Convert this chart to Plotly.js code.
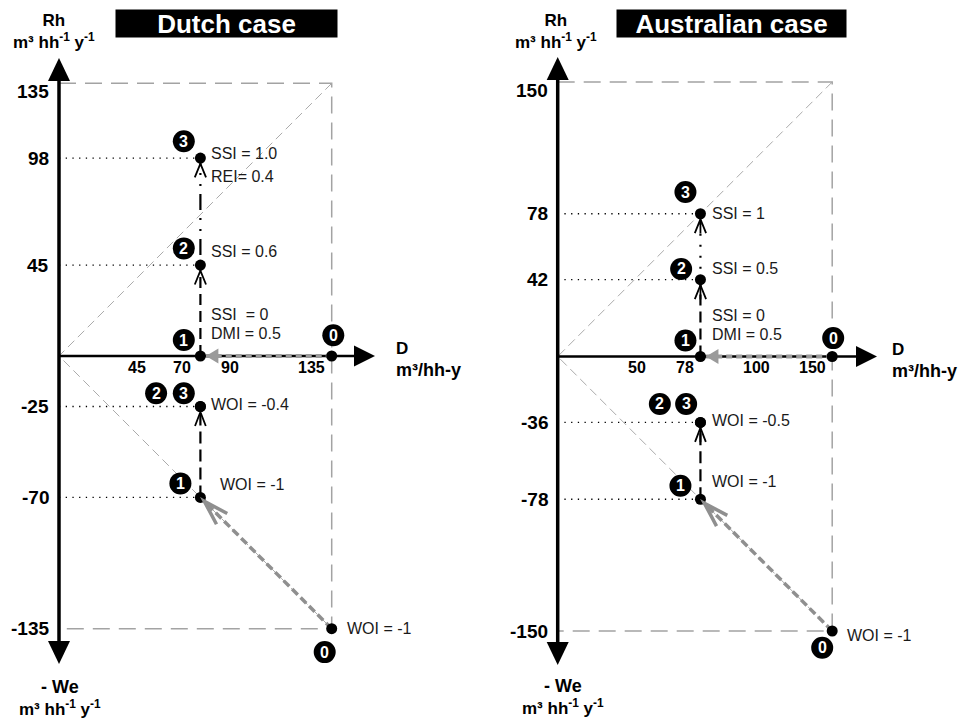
<!DOCTYPE html>
<html><head><meta charset="utf-8">
<script src="https://cdn.plot.ly/plotly-3.0.1.min.js"></script>
<style>html,body{margin:0;padding:0;background:#fff}#chart{width:960px;height:722px}</style>
</head><body><div id="chart"></div>
<script>
// ================= DATA =================
const states = ['0', '1', '2', '3'];
const panelTitles = ['Dutch case', 'Australian case'];

// Dutch case: position of each state 0..3
const dutchD  = [135, 70, 70, 70];      // D (m3/hh-y)
const dutchRh = [0, 0, 45, 98];         // Rh
const dutchWe = [-135, -70, -25, -25];  // -We
const dutchMax = 135;
const dutchDTicks  = [45, 70, 90, 135];
const dutchRhTicks = [135, 98, 45];
const dutchWeTicks = [-25, -70, -135];
const dutchNotes = ['WOI = -1', 'SSI  = 0', 'DMI = 0.5', 'WOI = -1', 'SSI = 0.6', 'WOI = -0.4', 'SSI = 1.0', 'REI= 0.4'];

// Australian case
const ausD  = [150, 78, 78, 78];
const ausRh = [0, 0, 42, 78];
const ausWe = [-150, -78, -36, -36];
const ausMax = 150;
const ausDTicks  = [50, 78, 100, 150];
const ausRhTicks = [150, 78, 42];
const ausWeTicks = [-36, -78, -150];
const ausNotes = ['WOI = -1', 'SSI = 0', 'DMI = 0.5', 'WOI = -1', 'SSI = 0.5', 'WOI = -0.5', 'SSI = 1'];

const axisTitles = {up: 'Rh', down: '- We', right: 'D', units: 'm³ hh<sup>-1</sup> y<sup>-1</sup>', dUnits: 'm³/hh-y'};

// ================= LAYOUT / STYLE =================
const W = 960, H = 722;
const FONT = 'Arial, "Liberation Sans", sans-serif';
const geo = [
  {xa: 'x', ya: 'y', ox: 59, oy: 356, sc: 2.02, left: 0, right: 480, topTip: 58, botTip: 664, rightTip: 375,
   dShift: [-13, -18, -11, -20], dash23: '2px,8px,16px,8px,2px,9px', shaft: false,
   title: {cx: 226.3, w: 221}, top: {cx: 53.5, cy: 31.5}, bot: {cx: 59.5, cy: 698}, dLab: {x: 394, cy: 359},
   notePos: [[0,'We',13,0],[1,'Rh',9,-42],[1,'Rh',9,-23],[1,'We',18,-13],[2,'Rh',9,-14],[2,'We',9,-2],[3,'Rh',9,-5],[3,'Rh',9,18]],
   badgePos: [[0,'Rh',1.6,-20.7],[1,'Rh',-16.6,-16],[2,'Rh',-16.6,-16.7],[3,'Rh',-16.6,-16.7],[0,'We',-7,23.4],[1,'We',-20,-14],[2,'We',-44.3,-13.3],[3,'We',-16.6,-13.3]]},
  {xa: 'x2', ya: 'y2', ox: 557.7, oy: 356.5, sc: 1.83, left: 480, right: 960, topTip: 57, botTip: 665, rightTip: 877,
   dShift: [-12, -15, 16, -20], dash23: '2px,9px', shaft: true,
   title: {cx: 731.3, w: 229}, top: {cx: 556, cy: 31}, bot: {cx: 563, cy: 697.2}, dLab: {x: 890, cy: 360.5},
   notePos: [[0,'We',12.6,4],[1,'Rh',10,-41],[1,'Rh',10,-22],[1,'We',10,-18],[2,'Rh',10,-11],[2,'We',10,-2],[3,'Rh',10,0]],
   badgePos: [[0,'Rh',1,-18.4],[1,'Rh',-15,-16],[2,'Rh',-19.3,-10.7],[3,'Rh',-15,-21.7],[0,'We',-10,16.7],[1,'We',-20,-13.4],[2,'We',-40.6,-18.4],[3,'We',-14.3,-18.4]]}
];
const data = [
  {D: dutchD, Rh: dutchRh, We: dutchWe, max: dutchMax, dT: dutchDTicks, rT: dutchRhTicks, wT: dutchWeTicks, notes: dutchNotes},
  {D: ausD, Rh: ausRh, We: ausWe, max: ausMax, dT: ausDTicks, rT: ausRhTicks, wT: ausWeTicks, notes: ausNotes}
];

const px2x = (p, g) => (p - g.ox) / g.sc;
const px2y = (p, g) => (g.oy - p) / g.sc;

const traces = [], annotations = [], heads = [], badges = [];
const layout = {
  width: W, height: H, margin: {l: 0, r: 0, t: 0, b: 0},
  paper_bgcolor: '#fff', plot_bgcolor: '#fff', showlegend: false, hovermode: false,
  annotations
};

// pixel-sized path anchored at a data point (pts given in screen pixels, y downwards)
function pixPath(X, Y, xv, yv, pts, closed, color, width, fill) {
  const p = pts.map((q, k) => (k ? 'L' : 'M') + q[0].toFixed(2) + ',' + (-q[1]).toFixed(2)).join(' ') + (closed ? ' Z' : '');
  heads.push({type: 'path', xref: X, yref: Y, xsizemode: 'pixel', ysizemode: 'pixel', xanchor: xv, yanchor: yv, path: p,
    line: {color: color, width: width}, fillcolor: fill || 'rgba(0,0,0,0)', layer: 'above'});
}
// open "V" arrowhead; (ux,uy) = screen unit vector pointing from the head back along the line
function vee(X, Y, xv, yv, ux, uy, len, half, std, color, w, shaft) {
  const rot = a => { const r = a * Math.PI / 180; return [ux * Math.cos(r) - uy * Math.sin(r), ux * Math.sin(r) + uy * Math.cos(r)]; };
  const apex = [ux * std, uy * std];
  const l1 = rot(-half), l2 = rot(half);
  const e1 = [apex[0] + l1[0] * len, apex[1] + l1[1] * len];
  const e2 = [apex[0] + l2[0] * len, apex[1] + l2[1] * len];
  pixPath(X, Y, xv, yv, [e1, apex, e2], false, color, w);
  if (shaft) pixPath(X, Y, xv, yv, [apex, [apex[0] + ux * len * 0.95, apex[1] + uy * len * 0.95]], false, color, w);
}

data.forEach((d, i) => {
  const g = geo[i];
  const X = g.xa, Y = g.ya;
  const axName = X === 'x' ? 'xaxis' : 'xaxis2';
  const ayName = Y === 'y' ? 'yaxis' : 'yaxis2';
  layout[axName] = {domain: [g.left / W, g.right / W], range: [px2x(g.left, g), px2x(g.right, g)], visible: false, fixedrange: true, anchor: Y};
  layout[ayName] = {domain: [0, 1], range: [px2y(H, g), px2y(0, g)], visible: false, fixedrange: true, anchor: X};

  const line = (x, y, color, width, dash) => traces.push({type: 'scatter', mode: 'lines', x, y, xaxis: X, yaxis: Y,
    line: {color, width, dash}, hoverinfo: 'skip', cliponaxis: false});
  const val = (s, a) => a === 'Rh' ? d.Rh[s] : d.We[s];

  // frame and diagonals
  line([0, d.max, d.max, 0], [d.max, d.max, -d.max, -d.max], '#a3a3a3', 1.5, '17px,9px');
  line([d.max, 0, d.max], [d.max, 0, -d.max], '#ababab', 1, '9px,5px');
  // dotted guides
  const gx = [], gy = [];
  [[d.D[2], d.Rh[2]], [d.D[3], d.Rh[3]], [d.D[1], d.We[1]], [d.D[2], d.We[2]]].forEach(([x, y]) => { gx.push(0, x, null); gy.push(y, y, null); });
  line(gx, gy, '#000', 1.3, '1.3px,5.4px');
  // axes lines
  line([0, 0], [px2y(g.botTip - 12, g), px2y(g.topTip + 12, g)], '#000', 3.5, 'solid');
  line([0, px2x(g.rightTip - 12, g)], [0, 0], '#000', 2.5, 'solid');
  // movements
  line([d.D[1], d.D[2]], [d.Rh[1], d.Rh[2]], '#000', 2.2, '11px,6px');
  line([d.D[2], d.D[3]], [d.Rh[2], d.Rh[3]], '#000', 2.2, g.dash23);
  line([d.D[1], d.D[2]], [d.We[1], d.We[2]], '#000', 2.2, '12px,6px');
  line([d.D[0], d.D[1]], [d.Rh[0], d.Rh[1]], '#9a9a9a', 4, '6px,4px');
  line([d.D[0], d.D[1]], [d.We[0], d.We[1]], '#8f8f8f', 3.5, '8px,4px');
  // points
  traces.push({type: 'scatter', mode: 'markers', x: d.D.concat(d.D), y: d.Rh.concat(d.We), xaxis: X, yaxis: Y,
    marker: {color: '#000', size: 11}, hoverinfo: 'skip', cliponaxis: false});

  // axis arrowheads (filled triangles)
  pixPath(X, Y, 0, px2y(g.topTip, g), [[-11, 23], [0, 0], [11, 23]], true, '#000', 0, '#000');
  pixPath(X, Y, 0, px2y(g.botTip, g), [[-11, -23], [0, 0], [11, -23]], true, '#000', 0, '#000');
  pixPath(X, Y, px2x(g.rightTip, g), 0, [[-21, -10.5], [0, 0], [-21, 10.5]], true, '#000', 0, '#000');

  // movement arrowheads
  vee(X, Y, d.D[2], d.Rh[2], 0, 1, 15, 22, 5.5, '#000', 1.8, g.shaft);
  vee(X, Y, d.D[3], d.Rh[3], 0, 1, 15, 22, 5.5, '#000', 1.8, g.shaft);
  vee(X, Y, d.D[2], d.We[2], 0, 1, 15, 21, 5.5, '#000', 1.8, g.shaft);
  // grey diagonal open head
  const ddx = (d.D[0] - d.D[1]), ddy = -(d.We[0] - d.We[1]);
  const dl = Math.hypot(ddx, ddy);
  vee(X, Y, d.D[1], d.We[1], ddx / dl, ddy / dl, 26, 17, 5.5, '#8f8f8f', 3.5, false);
  // grey horizontal filled head
  pixPath(X, Y, d.D[1], d.Rh[1], [[5.5, 0], [18, -7.5], [18, 7.5]], true, '#9a9a9a', 0, '#9a9a9a');

  // tick labels
  const tickFont = {family: FONT, size: 19, color: '#000'};
  d.rT.concat(d.wT).forEach(v => annotations.push({x: 0, y: v, xref: X, yref: Y, text: '<b>' + v + '</b>',
    showarrow: false, xanchor: 'right', yanchor: 'middle', xshift: -8, yshift: v === d.max ? -8 : 0, font: tickFont}));
  d.dT.forEach((v, k) => annotations.push({x: v, y: 0, xref: X, yref: Y, text: '<b>' + v + '</b>',
    showarrow: false, xanchor: 'center', yanchor: 'middle', xshift: g.dShift[k], yshift: -11,
    font: {family: FONT, size: 16, color: '#000'}}));

  // notes
  d.notes.forEach((t, k) => {
    const [s, a, dx, dy] = g.notePos[k];
    annotations.push({x: d.D[s], y: val(s, a), xref: X, yref: Y, text: t, showarrow: false,
      xanchor: 'left', yanchor: 'middle', xshift: dx, yshift: -dy, font: {family: FONT, size: 16, color: '#1a1a1a'}});
  });

  // badges
  g.badgePos.forEach(([s, a, dx, dy]) => {
    const xv = d.D[s], yv = val(s, a);
    badges.push({type: 'circle', xref: X, yref: Y, xsizemode: 'pixel', ysizemode: 'pixel', xanchor: xv, yanchor: yv,
      x0: dx - 11, x1: dx + 11, y0: -dy - 11, y1: -dy + 11, fillcolor: '#000', line: {width: 0}, layer: 'above'});
    annotations.push({x: xv, y: yv, xref: X, yref: Y, text: '<b>' + states[s] + '</b>', showarrow: false,
      xanchor: 'center', yanchor: 'middle', xshift: dx, yshift: -dy, font: {family: FONT, size: 16, color: '#fff'}});
  });

  // panel title box
  annotations.push({xref: 'paper', yref: 'paper', x: g.title.cx / W, y: 1 - 23.3 / H, text: '<b>' + panelTitles[i] + '</b>',
    showarrow: false, xanchor: 'center', yanchor: 'middle', width: g.title.w, height: 27, bgcolor: '#000', borderpad: 0,
    font: {family: FONT, size: 26, color: '#fff'}});
  // axis titles (two-line blocks)
  const pt = (x, y, text, xanchor, align) => annotations.push({xref: 'paper', yref: 'paper', x: x / W, y: 1 - y / H,
    text: text, showarrow: false, xanchor: xanchor, yanchor: 'middle', align: align,
    font: {family: FONT, size: 17, color: '#000'}});
  pt(g.top.cx, g.top.cy, '<b>' + axisTitles.up + '</b><br><b>' + axisTitles.units + '</b>', 'center', 'center');
  pt(g.bot.cx, g.bot.cy, '<b><span style="font-size:18px">' + axisTitles.down + '</span></b><br><b>' + axisTitles.units + '</b>', 'center', 'center');
  pt(g.dLab.x, g.dLab.cy, '<b>' + axisTitles.right + '</b><br><b><span style="font-size:18px">' + axisTitles.dUnits + '</span></b>', 'left', 'left');
});

layout.shapes = heads.concat(badges);
Plotly.newPlot('chart', traces, layout, {staticPlot: true, displayModeBar: false});
</script></body></html>
